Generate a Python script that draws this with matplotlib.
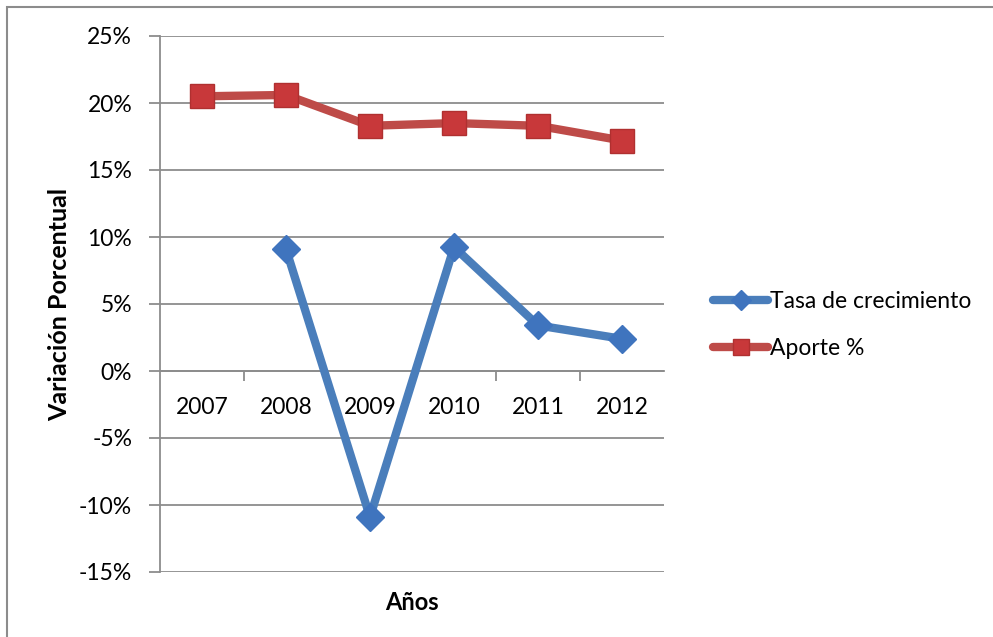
import matplotlib
matplotlib.use("Agg")
import matplotlib.pyplot as plt
from matplotlib.patches import Rectangle
from matplotlib.ticker import FuncFormatter, FixedLocator

years = ["2007", "2008", "2009", "2010", "2011", "2012"]
tasa = [None, 9.1, -10.9, 9.25, 3.4, 2.4]
aporte = [20.5, 20.6, 18.3, 18.5, 18.3, 17.2]

plt.rcParams['font.family'] = ['Lato', 'DejaVu Sans']

W, H = 993, 637
fig = plt.figure(figsize=(W / 100, H / 100), dpi=100)
fig.patch.set_facecolor('white')
ax = fig.add_axes([160 / W, 1 - 572 / H, (664 - 160) / W, (572 - 36) / H])

# outer border
fig.patches.append(Rectangle((7 / W, -0.05), 1.1, 1 - 7 / H + 0.05, transform=fig.transFigure,
                             fill=False, edgecolor='#8c8c8c', linewidth=1.5, clip_on=False))

x = list(range(len(years)))
tx = [i for i, v in zip(x, tasa) if v is not None]
tv = [v for v in tasa if v is not None]

ax.plot(tx, tv, color='#4A7EBB', linewidth=6, marker='D', markersize=14,
        markerfacecolor='#3F74BE', markeredgecolor='#3F74BE', label='Tasa de crecimiento',
        solid_capstyle='round', zorder=3)
ax.plot(x, aporte, color='#BE4B48', linewidth=6, marker='s', markersize=17,
        markerfacecolor='#C8383A', markeredgecolor='#B03030', label='Aporte %',
        solid_capstyle='round', zorder=3)

ax.set_xlim(-0.5, 5.5)
ax.set_ylim(-15, 25)
ax.set_yticks(range(-15, 26, 5))
ax.yaxis.set_major_formatter(FuncFormatter(lambda v, p: f"{int(v)}%"))
ax.grid(axis='y', color='#8c8c8c', linewidth=1.3)
ax.set_axisbelow(True)

for s in ['top', 'right']:
    ax.spines[s].set_visible(False)
ax.spines['left'].set_color('#8c8c8c')
ax.spines['left'].set_linewidth(1.3)
ax.spines['bottom'].set_position(('data', 0))
ax.spines['bottom'].set_color('#8c8c8c')
ax.spines['bottom'].set_linewidth(1.3)

ax.xaxis.set_major_locator(FixedLocator([0.5, 1.5, 2.5, 3.5, 4.5]))
ax.xaxis.set_major_formatter(FuncFormatter(lambda v, p: ""))
ax.xaxis.set_minor_locator(FixedLocator(x))
ax.set_xticklabels(years, minor=True)
ax.tick_params(axis='x', which='major', direction='out', length=7, color='#8c8c8c', width=1.3)
ax.tick_params(axis='x', which='minor', length=0, pad=19, labelsize=16.5)
ax.tick_params(axis='y', direction='out', length=8, color='#8c8c8c', width=1.3, pad=12, labelsize=16.5)

ax.text(0.5, -0.035, "Años", transform=ax.transAxes, ha='center', va='top',
        fontsize=17, fontweight='bold')
fig.text(60 / W, 1 - 304 / H, "Variación Porcentual", rotation=90, ha='center', va='center',
         fontsize=18, fontweight='bold')

leg = ax.legend(loc='center left', bbox_to_anchor=(702 / W, 1 - 325 / H),
                bbox_transform=fig.transFigure, frameon=False, fontsize=16.5,
                handlelength=2.4, handletextpad=0.05, labelspacing=1.1, borderpad=0,
                markerscale=0.7)

fig.savefig("out.png", dpi=100, facecolor='white')
